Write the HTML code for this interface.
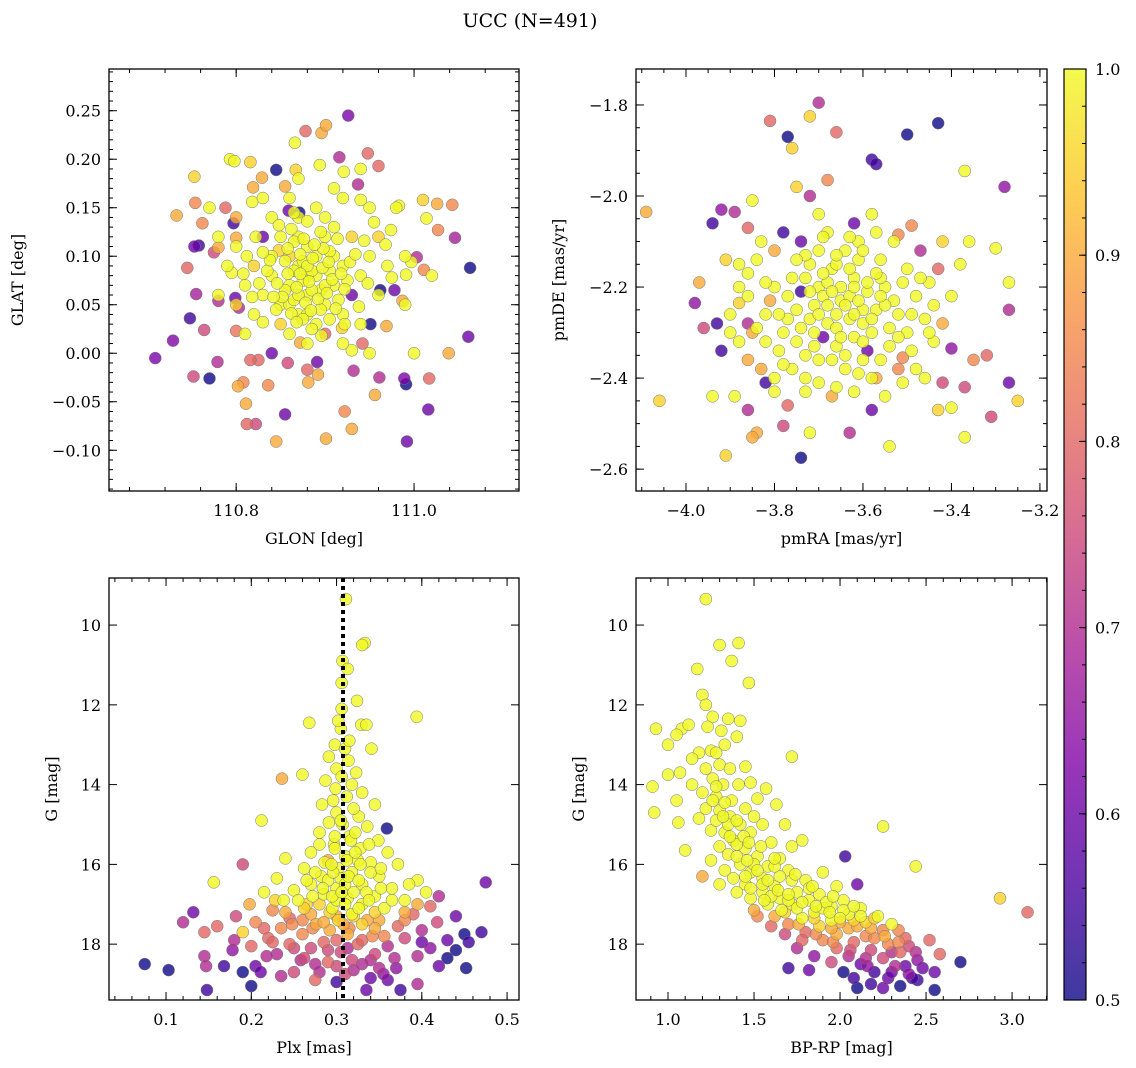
<!DOCTYPE html>
<html><head><meta charset="utf-8"><style>
html,body{margin:0;padding:0;background:#fff;}
svg{display:block;font-family:"DejaVu Serif","Liberation Serif",serif;}
</style></head><body>
<svg id="fig" width="1136" height="1068" viewBox="0 0 1136 1068" xmlns="http://www.w3.org/2000/svg">
<text x="530" y="27" font-size="19" text-anchor="middle">UCC (N=491)</text>
<defs><linearGradient id="cbg" x1="0" y1="1" x2="0" y2="0">
<stop offset="0" stop-color="#0d0887"/><stop offset="0.125" stop-color="#4c02a1"/><stop offset="0.25" stop-color="#7e03a8"/><stop offset="0.375" stop-color="#a82296"/><stop offset="0.5" stop-color="#cc4778"/><stop offset="0.625" stop-color="#e66c5c"/><stop offset="0.75" stop-color="#f89540"/><stop offset="0.875" stop-color="#fdc527"/><stop offset="1" stop-color="#f0f921"/></linearGradient></defs>
</svg>
<script>
// ---- Panel data: [x, y, membership probability] ----
const posData = [
[110.709,-0.005,0.62],[110.729,0.013,0.63],[110.748,0.036,0.55],[110.755,0.061,0.68],[110.745,0.088,0.8],[110.733,0.142,0.9],[110.753,0.182,0.95],[110.754,0.155,0.85],[110.762,0.134,0.85],[110.753,0.110,0.6],[110.758,0.111,0.55],[110.752,-0.024,0.75],[110.770,-0.026,0.5],[110.793,0.200,1],[110.798,0.198,1],[110.819,0.171,0.9],[110.818,0.156,1],[110.845,0.189,0.5],
[110.926,0.245,0.62],[110.878,0.229,0.8],[110.896,0.227,0.9],[110.901,0.235,0.9],[110.866,0.217,1],[110.916,0.202,0.7],[110.894,0.194,1],[110.948,0.206,0.8],[110.960,0.193,0.8],[110.921,0.187,1],[110.855,0.172,0.9],[110.829,0.181,0.9],[110.816,0.197,0.95],
[111.010,0.158,0.95],[111.026,0.154,0.9],[111.043,0.153,0.85],[111.027,0.127,0.85],[111.046,0.119,0.68],[111.014,0.139,1],[110.983,0.152,1],[110.974,0.127,1],[110.997,0.094,1],[111.011,0.086,0.85],[111.003,0.099,0.7],[111.061,0.017,0.6],[111.039,0.000,0.9],[111.000,0.000,1],[111.016,-0.058,0.6],[110.992,-0.091,0.6],[111.017,-0.026,0.8],[111.063,0.088,0.5],
[110.989,-0.026,0.62],[110.991,-0.032,0.5],[110.961,-0.025,0.7],[110.956,-0.043,0.9],[110.922,-0.060,0.85],[110.930,-0.078,0.9],[110.901,-0.088,0.9],[110.855,-0.063,0.6],[110.845,-0.091,0.9],[110.812,-0.073,0.8],[110.822,-0.073,0.75],[110.811,-0.052,0.9],[110.802,-0.034,0.9],[110.808,-0.030,0.85],[110.836,-0.033,0.85],[110.825,-0.007,0.8],[110.816,-0.007,0.8],[110.800,0.023,0.82],[110.803,0.047,0.7],[110.780,0.054,0.7],[110.795,0.083,1],[110.780,0.109,0.9],[110.800,0.119,0.9],[110.775,0.104,0.75],[110.764,0.024,0.75],[110.779,-0.009,0.7],[110.799,0.057,0.6],[110.788,0.150,0.8],[110.797,0.134,0.55],
[110.867,0.189,0.95],[110.871,0.145,0.5],[110.859,0.147,0.6],[110.848,0.106,0.95],[110.937,0.174,0.7],[110.962,0.065,0.5],[110.951,0.030,0.5],[110.942,0.010,0.8],[110.930,0.003,1],[110.932,-0.018,0.7],[110.891,-0.009,0.6],[110.880,-0.017,0.8],[110.881,-0.030,0.9],[110.892,-0.022,0.9],[110.858,-0.010,0.75],[110.872,0.011,0.9],[110.919,0.026,0.95],[110.969,0.028,0.9],[110.978,0.065,0.6],[110.987,0.054,0.9],[110.991,0.081,1],
[110.85,0.05,1],[110.86,0.07,1],[110.87,0.09,1],[110.88,0.06,1],[110.89,0.08,1],[110.90,0.05,1],[110.91,0.10,1],[110.88,0.11,1],[110.86,0.10,0.95],[110.84,0.08,1],[110.85,0.03,0.95],[110.87,0.04,1],[110.89,0.03,1],[110.91,0.07,1],[110.92,0.09,1],[110.93,0.06,0.6],[110.90,0.12,1],[110.87,0.12,1],[110.86,0.05,1],[110.88,0.08,1],[110.89,0.10,1],[110.875,0.075,1],[110.895,0.065,1],[110.865,0.085,1],[110.905,0.085,1],[110.88,0.04,1],[110.92,0.04,1],[110.83,0.06,1],[110.84,0.10,1],[110.82,0.09,0.95],[110.94,0.08,1],[110.95,0.10,1],[110.93,0.12,0.95],[110.91,0.13,1],[110.87,0.14,1],[110.85,0.12,1],[110.83,0.12,0.6],[110.81,0.07,1],[110.80,0.05,0.95],[110.82,0.04,1],[110.86,0.02,1],[110.90,0.02,0.8],[110.94,0.03,1],[110.96,0.06,1],[110.97,0.09,1],[110.96,0.12,0.95],[110.98,0.15,1],[110.95,0.15,1],[110.92,0.16,1],[110.89,0.15,1],[110.86,0.16,1],[110.84,0.14,1],[110.80,0.11,1],[110.79,0.09,1],[110.78,0.06,1],[110.81,0.02,1],[110.84,0.00,0.6],[110.88,0.01,1],[110.92,0.01,1],[110.95,0.00,1],[110.99,0.05,1],[110.99,0.10,1],[111.02,0.08,1],[110.78,0.12,1],[110.77,0.15,1],[110.80,0.14,0.9],[110.83,0.16,1],[110.87,0.18,1],[110.91,0.17,1],[110.94,0.19,1],
[110.855,0.065,1],[110.865,0.055,1],[110.875,0.095,1],[110.885,0.085,1],[110.895,0.045,1],[110.905,0.105,1],[110.915,0.055,1],[110.885,0.025,1],[110.845,0.045,1],[110.835,0.085,1],[110.875,0.035,1],[110.905,0.035,1],[110.925,0.075,1],[110.895,0.125,1],[110.865,0.115,1],[110.855,0.095,1],[110.885,0.065,1],[110.87,0.06,1],[110.88,0.09,1],[110.90,0.07,1]
];
const posCore = [
[110.852,0.058,1],[110.858,0.082,1],[110.862,0.041,1],[110.868,0.068,1],[110.872,0.102,1],[110.878,0.052,1],[110.882,0.074,1],[110.886,0.098,1],[110.892,0.056,1],[110.897,0.088,1],[110.902,0.062,1],[110.908,0.076,1],[110.912,0.046,1],[110.918,0.082,1],[110.922,0.066,1],[110.928,0.094,1],[110.846,0.072,1],[110.842,0.058,1],[110.838,0.096,1],[110.868,0.032,1],[110.884,0.044,1],[110.898,0.108,1],[110.876,0.118,1],[110.862,0.128,1],[110.914,0.118,1],[110.934,0.102,1],[110.938,0.048,1],[110.826,0.072,1],[110.830,0.104,1],[110.872,0.082,1],[110.888,0.112,1],[110.904,0.094,1],[110.858,0.108,1],[110.922,0.030,1],[110.944,0.116,1],[110.948,0.072,1],[110.818,0.058,1],[110.812,0.100,1],[110.880,0.136,1],[110.900,0.140,1],[110.955,0.135,1],[110.968,0.112,1],[110.975,0.078,1],[110.822,0.120,1],[110.848,0.132,1],[110.808,0.082,1],[110.830,0.032,1],[110.896,0.018,1],[110.940,0.158,1],[110.865,0.145,1]
];
const pmData = [
[-4.09,-2.035,0.9],[-4.06,-2.45,0.95],[-3.93,-2.28,0.55],[-3.92,-2.34,0.55],[-3.96,-2.29,0.75],[-3.98,-2.235,0.65],[-3.97,-2.19,0.9],[-3.91,-2.57,0.95],[-3.92,-2.03,0.65],[-3.89,-2.035,0.7],[-3.94,-2.06,0.55],[-3.91,-2.14,0.95],[-3.88,-2.15,1],[-3.86,-2.07,0.8],[-3.85,-2.01,1],[-3.81,-1.835,0.8],[-3.77,-1.87,0.5],[-3.76,-1.895,0.95],[-3.72,-1.825,0.95],[-3.70,-1.795,0.7],[-3.75,-1.98,0.95],[-3.68,-1.965,0.85],[-3.72,-2.0,0.7],[-3.66,-1.86,0.8],[-3.58,-1.92,0.55],[-3.57,-1.93,0.55],[-3.50,-1.865,0.5],[-3.43,-1.84,0.5],[-3.37,-1.945,1],[-3.28,-1.98,0.65],[-3.49,-2.065,0.85],[-3.52,-2.085,0.85],[-3.42,-2.10,0.95],[-3.36,-2.10,1],[-3.30,-2.115,1],[-3.38,-2.15,1],[-3.43,-2.16,0.8],[-3.45,-2.19,1],[-3.27,-2.19,1],[-3.27,-2.25,0.7],[-3.27,-2.41,0.6],[-3.25,-2.45,0.95],[-3.31,-2.485,0.75],[-3.32,-2.35,0.8],[-3.35,-2.36,0.85],[-3.40,-2.335,0.65],[-3.37,-2.42,0.75],[-3.43,-2.47,0.95],[-3.40,-2.465,1],[-3.37,-2.53,1],[-3.42,-2.41,0.75],[-3.48,-2.38,1],[-3.46,-2.40,1],[-3.51,-2.355,0.85],[-3.58,-2.40,1],[-3.58,-2.47,0.6],[-3.54,-2.55,1],[-3.63,-2.52,0.7],[-3.67,-2.44,0.9],[-3.72,-2.52,1],[-3.73,-2.43,1],[-3.77,-2.46,0.8],[-3.78,-2.505,0.75],[-3.74,-2.575,0.5],[-3.84,-2.52,0.9],[-3.85,-2.53,0.9],[-3.86,-2.47,0.7],[-3.89,-2.44,1],[-3.82,-2.41,0.55],[-3.83,-2.38,0.9],[-3.80,-2.40,1],[-3.85,-2.30,0.9],[-3.86,-2.28,0.7],[-3.90,-2.30,1],[-3.94,-2.44,1],[-3.88,-2.20,1],[-3.88,-2.235,0.95],
[-3.65,-2.23,1],[-3.70,-2.20,1],[-3.60,-2.25,1],[-3.75,-2.25,1],[-3.55,-2.20,1],[-3.68,-2.28,1],[-3.62,-2.18,1],[-3.72,-2.15,1],[-3.58,-2.30,1],[-3.78,-2.30,1],[-3.52,-2.26,1],[-3.66,-2.33,1],[-3.64,-2.12,1],[-3.70,-2.36,1],[-3.56,-2.14,1],[-3.80,-2.20,1],[-3.50,-2.30,1],[-3.74,-2.10,0.6],[-3.60,-2.36,1],[-3.82,-2.26,1],[-3.48,-2.22,1],[-3.67,-2.16,1],[-3.63,-2.27,1],[-3.71,-2.24,1],[-3.59,-2.21,1],[-3.76,-2.18,1],[-3.54,-2.33,1],[-3.69,-2.31,0.6],[-3.61,-2.14,1],[-3.79,-2.34,1],[-3.46,-2.27,1],[-3.73,-2.40,1],[-3.57,-2.40,0.9],[-3.64,-2.38,1],[-3.84,-2.14,1],[-3.53,-2.10,1],[-3.68,-2.08,1],[-3.78,-2.08,0.55],[-3.62,-2.06,0.6],[-3.58,-2.04,1],[-3.70,-2.04,1],[-3.66,-2.42,1],[-3.55,-2.44,1],[-3.76,-2.38,1],[-3.82,-2.32,1],[-3.50,-2.16,1],[-3.44,-2.24,1],[-3.44,-2.32,1],[-3.86,-2.22,1],[-3.65,-2.20,1],[-3.72,-2.27,1],[-3.60,-2.28,1],[-3.66,-2.26,1],[-3.63,-2.22,1],[-3.69,-2.22,1],[-3.57,-2.25,1],[-3.74,-2.21,0.55],[-3.62,-2.31,1],[-3.68,-2.19,1],[-3.56,-2.18,1],[-3.71,-2.33,1],[-3.59,-2.34,0.6],[-3.77,-2.27,1],[-3.53,-2.23,1],[-3.66,-2.15,1],[-3.81,-2.23,0.9],[-3.49,-2.34,1],[-3.61,-2.10,1],[-3.73,-2.13,1],[-3.64,-2.35,1],[-3.75,-2.32,1],[-3.52,-2.38,0.85],[-3.86,-2.36,0.9],[-3.47,-2.12,0.7],[-3.40,-2.22,1],[-3.42,-2.28,0.9],[-3.90,-2.26,1],[-3.80,-2.12,0.9]
];
const pmCore = [
[-3.64,-2.24,1],[-3.67,-2.21,1],[-3.61,-2.23,1],[-3.70,-2.26,1],[-3.58,-2.27,1],[-3.66,-2.29,1],[-3.62,-2.20,1],[-3.73,-2.18,1],[-3.57,-2.17,1],[-3.69,-2.17,1],[-3.60,-2.32,1],[-3.74,-2.29,1],[-3.55,-2.24,1],[-3.77,-2.22,1],[-3.63,-2.16,1],[-3.71,-2.30,1],[-3.65,-2.31,1],[-3.59,-2.19,1],[-3.68,-2.24,1],[-3.62,-2.26,1],[-3.54,-2.29,1],[-3.79,-2.26,1],[-3.72,-2.21,1],[-3.56,-2.22,1],[-3.66,-2.13,1],[-3.70,-2.12,1],[-3.60,-2.12,1],[-3.75,-2.14,1],[-3.51,-2.19,1],[-3.82,-2.19,1],[-3.67,-2.36,1],[-3.61,-2.39,1],[-3.73,-2.35,1],[-3.56,-2.36,1],[-3.78,-2.37,1],[-3.49,-2.26,1],[-3.84,-2.29,1],[-3.69,-2.09,1],[-3.63,-2.09,1],[-3.57,-2.08,1],[-3.52,-2.31,1],[-3.47,-2.18,1],[-3.83,-2.10,1],[-3.86,-2.17,1],[-3.45,-2.30,1],[-3.70,-2.41,1],[-3.62,-2.43,1],[-3.80,-2.43,1],[-3.51,-2.41,1],[-3.88,-2.32,1]
];
const plxData = [
[0.311,9.35,1],[0.333,10.45,1],[0.330,10.5,1],[0.307,10.9,1],[0.313,11.1,1],[0.306,11.45,1],[0.324,11.9,1],[0.306,12.1,1],[0.394,12.3,1],[0.268,12.45,1],[0.329,12.5,1],[0.335,12.5,1],[0.305,12.6,1],[0.298,13.0,1],[0.310,13.1,1],[0.341,13.1,1],[0.291,13.3,1],[0.314,13.4,1],[0.300,13.6,1],[0.323,13.7,1],[0.260,13.75,1],[0.236,13.85,0.9],[0.287,13.9,1],[0.299,14.1,1],[0.330,14.2,1],[0.312,14.3,1],[0.283,14.5,1],[0.345,14.5,1],[0.300,14.7,1],[0.326,14.8,1],[0.212,14.9,1],[0.291,14.95,1],[0.307,15.0,1],[0.336,15.05,1],[0.359,15.1,0.5],[0.280,15.2,1],[0.315,15.3,1],[0.349,15.4,1],[0.297,15.5,1],[0.328,15.6,1],[0.270,15.7,1],[0.360,15.7,1],[0.310,15.8,1],[0.240,15.85,1],[0.290,15.9,0.9],[0.340,15.95,1],[0.190,16.0,0.75],[0.372,16.0,1],[0.262,16.1,1],[0.302,16.1,1],[0.318,16.2,1],[0.282,16.3,1],[0.350,16.3,1],[0.230,16.35,1],[0.156,16.45,1],[0.395,16.4,1],[0.475,16.45,0.6],[0.270,16.5,1],[0.330,16.5,1],[0.300,16.6,1],[0.365,16.6,1],[0.250,16.65,1],[0.215,16.7,1],[0.405,16.7,1],[0.285,16.75,1],[0.345,16.8,1],[0.420,16.8,0.7],[0.313,16.85,1],[0.238,16.9,1],[0.380,16.9,1],[0.198,17.0,0.9],[0.265,17.0,0.95],[0.330,17.0,1],[0.410,17.05,0.8],[0.295,17.1,1],[0.356,17.1,1],[0.225,17.15,0.85],[0.132,17.2,0.6],[0.182,17.3,0.75],[0.270,17.25,0.9],[0.318,17.25,1],[0.390,17.25,0.8],[0.440,17.3,0.6],[0.245,17.35,0.8],[0.302,17.4,0.95],[0.350,17.4,0.9],[0.120,17.45,0.7],[0.205,17.45,0.85],[0.418,17.45,0.75],[0.276,17.5,0.9],[0.330,17.5,0.95],[0.160,17.55,0.8],[0.372,17.55,0.8],[0.470,17.7,0.55],[0.235,17.6,0.85],[0.292,17.65,0.9],[0.145,17.7,0.8],[0.190,17.7,0.95],[0.400,17.65,0.7],[0.450,17.75,0.5],[0.313,17.75,0.9],[0.260,17.75,0.85],[0.342,17.8,0.85],[0.220,17.85,0.8],[0.380,17.85,0.75],[0.430,17.9,0.6],[0.180,17.9,0.7],[0.285,17.95,0.8],[0.455,17.95,0.55],[0.245,18.0,0.8],[0.325,18.0,0.8],[0.360,18.05,0.7],[0.200,18.05,0.8],[0.410,18.1,0.65],[0.440,18.15,0.5],[0.270,18.1,0.75],[0.178,18.15,0.65],[0.305,18.2,0.75],[0.230,18.25,0.7],[0.345,18.25,0.75],[0.145,18.3,0.7],[0.395,18.3,0.7],[0.430,18.35,0.5],[0.258,18.4,0.7],[0.290,18.45,0.8],[0.075,18.5,0.5],[0.147,18.55,0.7],[0.168,18.55,0.55],[0.205,18.55,0.6],[0.330,18.5,0.7],[0.452,18.6,0.5],[0.420,18.55,0.6],[0.370,18.6,0.65],[0.103,18.65,0.5],[0.190,18.7,0.5],[0.211,18.7,0.6],[0.250,18.7,0.75],[0.280,18.7,0.7],[0.310,18.75,0.75],[0.355,18.75,0.65],[0.235,18.8,0.7],[0.340,18.85,0.6],[0.275,18.9,0.8],[0.300,18.95,0.55],[0.360,18.9,0.6],[0.395,19.0,0.7],[0.200,19.05,0.5],[0.148,19.15,0.55],[0.335,19.15,0.6],[0.375,19.15,0.55],[0.262,18.35,0.75],[0.318,18.4,0.75],[0.225,17.95,0.8],[0.350,18.6,0.7],
[0.300,16.9,1],[0.310,17.0,1],[0.320,16.7,1],[0.290,16.4,1],[0.305,16.35,1],[0.325,15.9,1],[0.298,15.6,1],[0.317,15.4,1],[0.305,14.9,1],[0.320,14.6,1],[0.295,16.8,1],[0.335,16.7,1],[0.280,17.0,0.95],[0.345,17.2,0.95],[0.320,17.3,0.95],[0.300,17.3,0.9],[0.285,17.45,0.9],[0.315,17.6,0.85],[0.345,17.6,0.9],[0.260,17.4,0.85],[0.300,17.9,0.8],[0.330,17.9,0.8],[0.255,16.9,1],[0.365,16.9,1],[0.275,16.2,1],[0.340,16.2,1],[0.310,16.5,1],[0.328,16.0,1],[0.286,15.95,1],[0.313,18.1,0.7],[0.290,18.15,0.75],[0.340,18.4,0.7],[0.380,17.2,0.9],[0.240,17.2,0.9],[0.215,17.6,0.8],[0.400,17.95,0.6]
];
const plxCore = [
[0.296,16.2,1],[0.314,16.3,1],[0.326,16.4,1],[0.284,16.6,1],[0.306,16.7,1],[0.338,16.9,1],[0.272,16.8,1],[0.352,16.6,1],[0.292,17.2,0.95],[0.326,17.1,1],[0.262,17.1,0.95],[0.308,17.5,0.9],[0.336,17.4,0.9],[0.272,17.6,0.85],[0.356,17.8,0.85],[0.248,17.5,0.85],[0.380,17.4,0.85],[0.298,15.3,1],[0.322,15.2,1],[0.312,15.9,1],[0.294,16.0,1],[0.338,15.5,1],[0.280,15.5,1],[0.352,16.1,1],[0.265,16.4,1],[0.385,16.5,1],[0.228,16.9,0.95],[0.395,17.0,0.9],[0.250,18.1,0.75],[0.275,18.5,0.7],[0.300,18.55,0.75],[0.320,18.65,0.7],[0.218,18.3,0.7],[0.368,18.35,0.7],[0.296,14.4,1],[0.318,14.0,1],[0.306,13.8,1],[0.315,12.9,1],[0.302,12.4,1],[0.322,15.7,1]
];
const cmdData = [
[1.22,9.35,1],[1.30,10.5,1],[1.41,10.45,1],[1.37,10.9,1],[1.17,11.1,1],[1.47,11.45,1],[1.20,11.75,1],[1.22,12.0,1],[1.26,12.3,1],[1.35,12.35,1],[1.42,12.4,1],[0.93,12.6,1],[1.08,12.6,1],[1.12,12.5,1],[1.23,12.55,1],[1.05,12.75,1],[1.31,12.65,1],[1.00,13.0,1],[1.40,12.8,1],[1.18,13.2,1],[1.25,13.15,1],[1.28,13.2,1],[1.33,13.0,1],[1.72,13.3,1],[1.14,13.35,1],[1.00,13.75,1],[1.07,13.7,1],[1.22,13.6,1],[1.30,13.5,1],[1.36,13.6,1],[1.45,13.55,1],[1.26,13.85,1],[0.91,14.05,1],[1.14,14.0,1],[1.32,14.0,1],[1.41,14.0,1],[1.48,13.95,1],[1.57,14.1,1],[1.20,14.2,1],[1.28,14.3,1],[1.05,14.4,1],[1.37,14.4,1],[1.52,14.35,1],[0.92,14.7,1],[1.22,14.6,1],[1.30,14.65,1],[1.45,14.6,1],[1.63,14.5,1],[1.18,14.85,1],[1.36,14.8,1],[1.50,14.8,1],[1.06,14.95,1],[1.42,15.0,1],[1.55,15.0,1],[1.68,15.0,1],[2.25,15.05,1],[1.25,15.15,1],[1.33,15.2,1],[1.48,15.2,1],[1.10,15.65,1],[1.38,15.4,1],[1.60,15.45,1],[1.72,15.55,1],[1.78,15.4,1],[1.30,15.55,1],[1.45,15.6,1],[2.03,15.8,0.55],[1.35,15.75,1],[1.52,15.8,1],[1.65,15.85,1],[1.25,15.9,1],[1.42,16.0,1],[1.58,16.05,1],[2.44,16.05,1],[1.33,16.15,1],[1.48,16.2,1],[1.70,16.15,1],[1.90,16.2,1],[1.20,16.3,0.9],[1.38,16.35,1],[1.55,16.35,1],[1.80,16.4,1],[2.10,16.5,0.6],[1.30,16.5,1],[1.45,16.5,1],[1.62,16.55,1],[1.98,16.55,1],[1.40,16.7,1],[1.55,16.7,1],[1.75,16.7,1],[1.88,16.75,1],[2.93,16.85,0.95],[1.48,16.85,1],[1.65,16.85,1],[1.82,16.9,1],[2.02,16.9,1],[1.58,17.0,1],[1.72,17.0,1],[1.95,17.05,1],[2.12,17.1,1],[3.09,17.2,0.8],[1.50,17.15,0.9],[1.66,17.15,1],[1.85,17.2,1],[2.05,17.25,1],[2.22,17.3,1],[1.62,17.3,0.9],[1.78,17.35,1],[1.95,17.4,1],[2.15,17.45,0.95],[2.30,17.5,1],[1.70,17.5,0.85],[1.88,17.55,0.95],[2.05,17.6,0.9],[2.25,17.65,0.85],[1.80,17.7,0.8],[1.98,17.75,0.9],[2.15,17.8,0.85],[2.38,17.85,0.8],[2.52,17.9,0.8],[1.90,17.9,0.85],[2.08,17.95,0.8],[2.28,18.0,0.85],[2.40,18.05,0.75],[1.75,18.1,0.7],[1.98,18.1,0.8],[2.18,18.15,0.75],[2.35,18.2,0.8],[2.58,18.25,0.8],[1.85,18.3,0.65],[2.05,18.3,0.7],[2.25,18.35,0.75],[2.45,18.4,0.65],[2.70,18.45,0.5],[1.95,18.45,0.75],[2.12,18.5,0.6],[2.32,18.55,0.7],[2.48,18.6,0.6],[1.70,18.6,0.55],[1.82,18.65,0.6],[2.02,18.7,0.5],[2.20,18.7,0.55],[2.40,18.75,0.65],[2.55,18.7,0.6],[2.08,18.85,0.55],[2.28,18.85,0.6],[2.45,18.9,0.55],[2.18,19.0,0.55],[2.35,19.05,0.5],[2.10,19.1,0.5],[2.55,19.15,0.5],[2.25,19.1,0.6],
[1.45,16.3,1],[1.55,16.5,1],[1.60,16.8,1],[1.70,16.9,1],[1.75,17.1,1],[1.90,17.1,1],[1.85,17.35,0.95],[2.00,17.45,0.9],[2.10,17.55,0.9],[1.95,17.6,0.9],[2.20,17.85,0.85],[2.30,18.2,0.7],[2.15,18.35,0.7],[2.38,18.55,0.6],[1.65,16.3,1],[1.50,16.0,1],[1.40,15.8,1],[1.35,15.0,1],[1.28,14.9,1],[1.33,14.45,1],[1.52,17.3,0.85],[1.60,17.55,0.8],[1.68,17.75,0.75],[1.78,17.9,0.8],[1.62,16.05,1],[1.72,16.4,1],[1.82,16.6,1],[1.92,16.95,1],[2.02,17.15,1],[2.12,17.3,1]
];
const cmdCore = [
[1.40,15.5,1],[1.46,15.9,1],[1.52,16.15,1],[1.58,16.4,1],[1.64,16.65,1],[1.70,16.75,1],[1.78,16.95,1],[1.86,17.05,1],[1.94,17.2,1],[2.00,17.35,1],[2.08,17.4,0.95],[2.18,17.6,0.9],[2.26,17.8,0.9],[2.34,17.95,0.85],[2.44,18.2,0.7],[1.36,15.3,1],[1.32,14.8,1],[1.26,14.4,1],[1.48,16.6,1],[1.56,16.9,1],[1.68,17.2,0.95],[1.76,17.5,0.9],[1.86,17.75,0.85],[1.96,17.95,0.85],[2.06,18.15,0.75],[2.16,18.55,0.65],[2.30,18.7,0.6],[2.42,18.85,0.55],[1.54,15.55,1],[1.62,15.85,1],[1.74,16.25,1],[1.84,16.55,1],[1.96,16.8,1],[2.08,17.05,1],[2.20,17.35,0.95],[2.34,17.65,0.85],[1.44,15.3,1],[1.28,14.05,1],[1.40,14.9,1],[1.47,15.45,1]
];
// colorbar ticks
const cbTicks = [0.5,0.6,0.7,0.8,0.9,1.0];

const NS='http://www.w3.org/2000/svg';
const svg=document.getElementById('fig');
function mk(tag,attrs,parent){const e=document.createElementNS(NS,tag);for(const k in attrs)e.setAttribute(k,attrs[k]);(parent||svg).appendChild(e);return e;}
const stops=[[0,13,8,135],[0.125,76,2,161],[0.25,126,3,168],[0.375,168,34,150],[0.5,204,71,120],[0.625,230,108,92],[0.75,248,149,64],[0.875,253,197,39],[1,240,249,33]];
function plasma(p){let t=Math.max(0,Math.min(1,(p-0.5)/0.5));for(let i=1;i<stops.length;i++){if(t<=stops[i][0]){const a=stops[i-1],b=stops[i],f=(t-a[0])/(b[0]-a[0]);return `rgb(${Math.round(a[1]+f*(b[1]-a[1]))},${Math.round(a[2]+f*(b[2]-a[2]))},${Math.round(a[3]+f*(b[3]-a[3]))})`;}}return 'rgb(240,249,33)';}
function fmt(v,d){return (v<0?'\u2212':'')+Math.abs(v).toFixed(d);}

function panel(cfg){
  const {name,x0,x1,y0,y1,px0,px1,py0,py1,data,xl,yl,xticks,yticks,xmin,ymin,xd,yd,ylx}=cfg;
  const g=mk('g',{});  
  const sx=v=>px0+(v-x0)/(x1-x0)*(px1-px0);
  const sy=v=>py1-(v-y0)/(y1-y0)*(py1-py0);
  const pts=data.slice().sort((a,b)=>a[2]-b[2]);
  const mg=mk('g',{},g);  
  pts.forEach(d=>{const c=mk('circle',{cx:sx(d[0]),cy:sy(d[1]),r:6,fill:plasma(d[2]),'fill-opacity':0.8,stroke:'#777','stroke-width':0.5},mg);
     });
  if(cfg.vline!==undefined){const l=mk('line',{x1:sx(cfg.vline),x2:sx(cfg.vline),y1:py0,y2:py1,stroke:'#000','stroke-width':4,'stroke-dasharray':'4,4'},g);
     }
  const fr=mk('rect',{x:px0,y:py0,width:px1-px0,height:py1-py0,fill:'none',stroke:'#000','stroke-width':1.3},g);
   
  const tg=mk('g',{stroke:'#000','stroke-width':1},g);  
  const eps=1e-9;
  for(let v=Math.ceil(x0/xmin-eps)*xmin;v<=x1+eps;v+=xmin){const X=sx(v);mk('line',{x1:X,x2:X,y1:py1,y2:py1-4},tg);mk('line',{x1:X,x2:X,y1:py0,y2:py0+4},tg);}
  for(let v=Math.ceil(y0/ymin-eps)*ymin;v<=y1+eps;v+=ymin){const Y=sy(v);mk('line',{x1:px0,x2:px0+4,y1:Y,y2:Y},tg);mk('line',{x1:px1,x2:px1-4,y1:Y,y2:Y},tg);}
  xticks.forEach(v=>{const X=sx(v);mk('line',{x1:X,x2:X,y1:py1,y2:py1-8},tg);mk('line',{x1:X,x2:X,y1:py0,y2:py0+8},tg);
    const t=mk('text',{x:X,y:py1+25,'font-size':16,'text-anchor':'middle'},g);t.textContent=fmt(v,xd);});
  yticks.forEach(v=>{const Y=sy(v);mk('line',{x1:px0,x2:px0+8,y1:Y,y2:Y},tg);mk('line',{x1:px1,x2:px1-8,y1:Y,y2:Y},tg);
    const t=mk('text',{x:px0-8,y:Y+6,'font-size':16,'text-anchor':'end'},g);t.textContent=fmt(v,yd);});
  const xt=mk('text',{x:(px0+px1)/2,y:py1+53,'font-size':16,'text-anchor':'middle'},g);xt.textContent=xl;
  const yt=mk('text',{x:ylx,y:(py0+py1)/2,'font-size':16,'text-anchor':'middle',transform:`rotate(-90 ${ylx} ${(py0+py1)/2})`},g);yt.textContent=yl;
}
panel({name:'position-panel',x0:110.657,x1:111.118,y0:-0.142,y1:0.293,px0:109,px1:519,py0:69,py1:491,data:posData.concat(posCore),xl:'GLON [deg]',yl:'GLAT [deg]',xticks:[110.8,111.0],yticks:[-0.10,-0.05,0,0.05,0.10,0.15,0.20,0.25],xmin:0.04,ymin:0.01,xd:1,yd:2,ylx:23});
panel({name:'proper-motion-panel',x0:-4.113,x1:-3.184,y0:-2.648,y1:-1.721,px0:636,px1:1047,py0:69,py1:491,data:pmData.concat(pmCore),xl:'pmRA [mas/yr]',yl:'pmDE [mas/yr]',xticks:[-4.0,-3.8,-3.6,-3.4,-3.2],yticks:[-2.6,-2.4,-2.2,-2.0,-1.8],xmin:0.05,ymin:0.05,xd:1,yd:1,ylx:564});
panel({name:'parallax-panel',x0:0.0331,x1:0.514,y0:19.40,y1:8.82,px0:109,px1:519,py0:578,py1:1000,data:plxData.concat(plxCore),xl:'Plx [mas]',yl:'G [mag]',xticks:[0.1,0.2,0.3,0.4,0.5],yticks:[10,12,14,16,18],xmin:0.02,ymin:0.5,xd:1,yd:0,ylx:57,vline:0.3076});
panel({name:'cmd-panel',x0:0.814,x1:3.203,y0:19.40,y1:8.82,px0:636,px1:1047,py0:578,py1:1000,data:cmdData.concat(cmdCore),xl:'BP-RP [mag]',yl:'G [mag]',xticks:[1.0,1.5,2.0,2.5,3.0],yticks:[10,12,14,16,18],xmin:0.1,ymin:0.5,xd:1,yd:0,ylx:584});
// colorbar
const cb=mk('g',{});  
mk('rect',{x:1064,y:69,width:22,height:931,fill:'url(#cbg)','fill-opacity':0.8,stroke:'#000','stroke-width':1.2},cb);
const cy=v=>1000-(v-0.5)/0.5*931;
for(let v=0.52;v<1.0;v+=0.02){mk('line',{x1:1086,x2:1082,y1:cy(v),y2:cy(v),stroke:'#000','stroke-width':1},cb);}
cbTicks.forEach(v=>{mk('line',{x1:1086,x2:1079,y1:cy(v),y2:cy(v),stroke:'#000','stroke-width':1},cb);
  const t=mk('text',{x:1095,y:cy(v)+6,'font-size':16},cb);t.textContent=v.toFixed(1);});
</script>
</body></html>
